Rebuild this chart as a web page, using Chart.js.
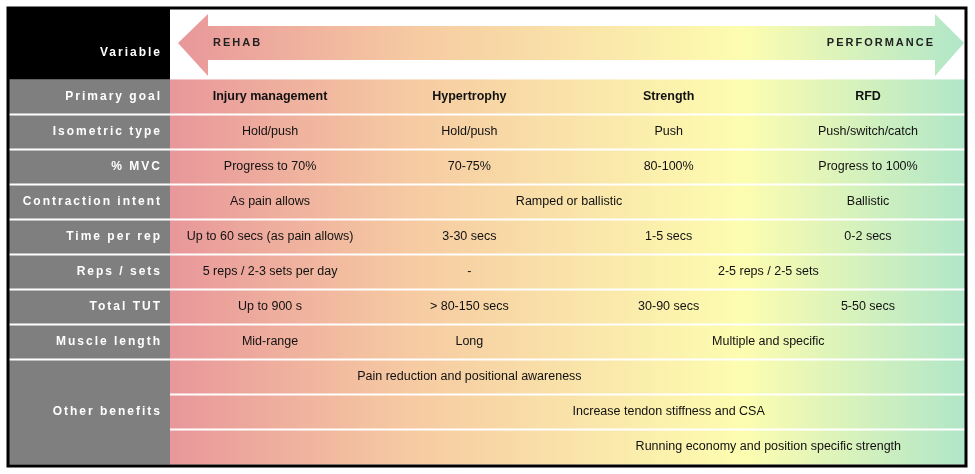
<!DOCTYPE html>
<html><head><meta charset="utf-8">
<script src="https://cdn.jsdelivr.net/npm/chart.js@4"></script>
<style>html,body{margin:0;padding:0;background:#fff}#w{width:975px;height:474px}</style>
</head><body><div id="w"><canvas id="c"></canvas></div>
<script>
const rowLabels=["Primary goal","Isometric type","% MVC","Contraction intent","Time per rep","Reps / sets","Total TUT","Muscle length","Other benefits"];
const cellTexts=["Injury management","Hypertrophy","Strength","RFD","Hold/push","Hold/push","Push","Push/switch/catch","Progress to 70%","70-75%","80-100%","Progress to 100%","As pain allows","Ramped or ballistic","Ballistic","Up to 60 secs (as pain allows)","3-30 secs","1-5 secs","0-2 secs","5 reps / 2-3 sets per day","-","2-5 reps / 2-5 sets","Up to 900 s","> 80-150 secs","30-90 secs","5-50 secs","Mid-range","Long","Multiple and specific","Pain reduction and positional awareness","Increase tendon stiffness and CSA","Running economy and position specific strength"];
const cellCols=[0,1,2,3,0,1,2,3,0,1,2,3,0,1.5,3,0,1,2,3,0,1,2.5,0,1,2,3,0,1,2.5,1,2,2.5];
const cellRows=[0,0,0,0,1,1,1,1,2,2,2,2,3,3,3,4,4,4,4,5,5,5,6,6,6,6,7,7,7,8,9,10];
const headerLeft="REHAB",headerRight="PERFORMANCE",headerVar="Variable";

function grad(ctx,x0,x1){const g=ctx.createLinearGradient(x0,0,x1,0);
g.addColorStop(0,'#e8979a');g.addColorStop(0.3,'#f6caa2');g.addColorStop(0.72,'#fdfdb0');g.addColorStop(1,'#b0e6c8');return g;}

const tablePlugin={id:'tbl',
beforeDatasetsDraw(ch){const c=ch.ctx,xs=ch.scales.x,ys=ch.scales.y;
 const L=8,R=966,T=8,B=466,G=170;
 const ry=r=>ys.getPixelForValue(r);
 c.save();c.fillStyle='#fff';c.fillRect(0,0,975,474);
 const top0=ry(-0.5),bot=ry(10.5);
 c.fillStyle=grad(c,G,R);c.fillRect(G,top0,R-G,bot-top0);
 c.fillStyle='#7f7f7f';c.fillRect(L,top0,G-L,bot-top0);
 c.fillStyle='#000';c.fillRect(L,T,G-L,top0-T);
 c.strokeStyle='#fff';c.lineWidth=2;
 for(let r=0;r<8;r++){const y=ry(r+0.5);c.beginPath();c.moveTo(L,y);c.lineTo(R,y);c.stroke();}
 for(let r=8;r<10;r++){const y=ry(r+0.5);c.beginPath();c.moveTo(G,y);c.lineTo(R,y);c.stroke();}
 // arrow
 const cy=ry(-1.54);
 c.beginPath();c.moveTo(178,cy);c.lineTo(208,14);c.lineTo(208,cy-17);c.lineTo(935,cy-17);c.lineTo(935,14);c.lineTo(964,cy);c.lineTo(935,76);c.lineTo(935,cy+17);c.lineTo(208,cy+17);c.lineTo(208,76);c.closePath();
 c.fillStyle=grad(c,178,964);c.fill();
 c.strokeStyle='#000';c.lineWidth=3;c.strokeRect(L,T,R-L,B-T);
 c.textBaseline='middle';c.letterSpacing='2px';c.font='bold 11px "Liberation Sans"';c.fillStyle='#222';
 c.textAlign='left';c.fillText(headerLeft,213,cy);
 c.textAlign='right';c.fillText(headerRight,935,cy);
 c.fillStyle='#fff';c.font='bold 12px "Liberation Sans"';
 c.fillText(headerVar,162,cy+10);
 rowLabels.forEach((t,i)=>{c.fillText(t,162,ry(i===8?9:i));});
 c.restore();},
afterDatasetsDraw(ch){const c=ch.ctx,xs=ch.scales.x,ys=ch.scales.y;c.save();c.textAlign='center';c.textBaseline='middle';c.fillStyle='#111';
 cellTexts.forEach((t,i)=>{c.font=(cellRows[i]===0?'bold ':'')+'12.5px "Liberation Sans"';c.fillText(t,xs.getPixelForValue(cellCols[i]),ys.getPixelForValue(cellRows[i]));});
 c.restore();}};

new Chart(document.getElementById('c'),{type:'scatter',
data:{datasets:[{data:cellCols.map((x,i)=>({x,y:cellRows[i]})),pointRadius:0}]},
options:{responsive:true,maintainAspectRatio:false,animation:false,layout:{padding:0},
plugins:{legend:{display:false},tooltip:{enabled:false}},
scales:{x:{type:'linear',min:-1.355,max:3.537,display:false},y:{type:'linear',min:-2.77,max:10.77,reverse:true,display:false}}},
plugins:[tablePlugin]});
</script></body></html>
